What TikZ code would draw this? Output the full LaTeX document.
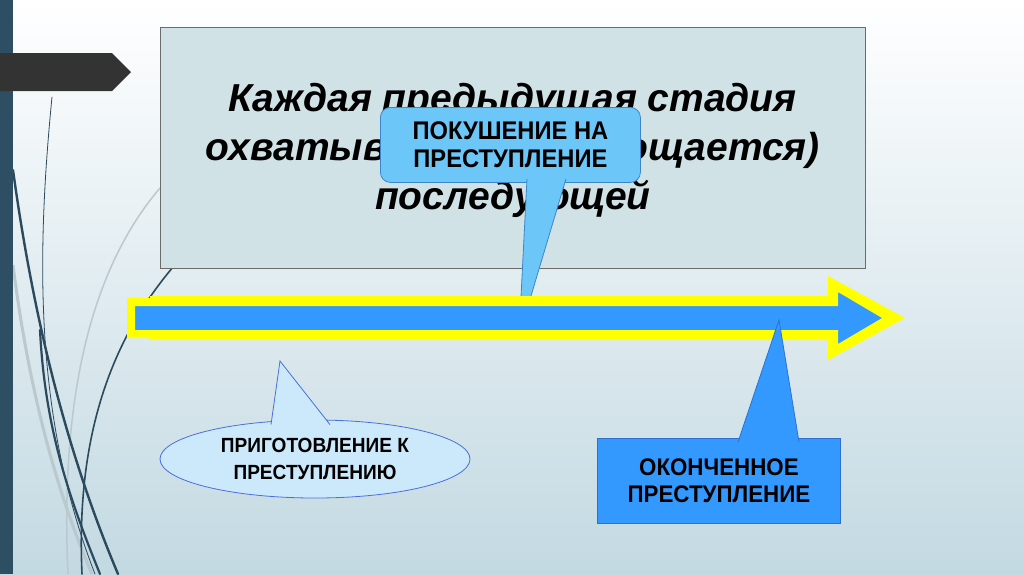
\documentclass[tikz,border=0pt]{standalone}
\usepackage{fontspec}
\setmainfont{Liberation Sans}
\newfontfamily\slimfont[FakeStretch=0.93]{Liberation Sans}
\usepackage{tikz}
\usetikzlibrary{positioning,calc,shapes.geometric}
\definecolor{bgbottom}{HTML}{C3D9E2}
\definecolor{barteal}{HTML}{2E4F63}
\definecolor{tabdark}{HTML}{333333}
\definecolor{wispdark}{HTML}{2B4A5E}
\definecolor{wisplight}{HTML}{B9C9CE}
\definecolor{boxfill}{HTML}{D1E2E7}
\definecolor{boxline}{HTML}{6B6B6B}
\definecolor{skyfill}{HTML}{6CC6F8}
\definecolor{skyline}{HTML}{3B86C8}
\definecolor{arrowblue}{HTML}{3399FF}
\definecolor{signal}{HTML}{FFFF00}
\definecolor{ellfill}{HTML}{CCE9FB}
\definecolor{ellline}{HTML}{4A6FDC}
\definecolor{finalline}{HTML}{2F6FD0}

\begin{document}
\begin{tikzpicture}[x=1pt, y=-1pt,
    attemptstyle/.style={fill=skyfill, draw=skyline, line width=0.8pt},
    prepstyle/.style={fill=ellfill, draw=ellline, line width=0.8pt},
    finalstyle/.style={fill=arrowblue, draw=finalline, line width=0.8pt},
    wisp/.style={draw=wispdark, line cap=round}]
    \useasboundingbox (0,0) rectangle (1024,574);
    % background and theme decoration
    \shade[top color=white, bottom color=bgbottom] (0,0) rectangle (1024,574);
    \draw[wisplight, line width=1.5pt] (160,188) .. controls (90,270) and (60,400) .. (68,574);
    \draw[wisplight, line width=3pt] (13,265) .. controls (30,400) and (60,500) .. (92,574);
    \draw[wisp, line width=2.4pt] (13,170) .. controls (35,330) and (70,460) .. (118,574);
    \draw[wisp, line width=2.2pt] (40,330) .. controls (45,430) and (70,500) .. (100,574);
    \draw[wisp, line width=0.8pt] (52,97) .. controls (36,260) and (35,420) .. (95,574);
    \draw[wisp, line width=1.6pt] (193,245) .. controls (120,320) and (75,420) .. (82,574);
    \fill[barteal] (0,0) rectangle (13,574);
    \fill[tabdark] (0,53) -- (112,53) -- (131,72) -- (112,91) -- (0,91) -- cycle;

    % main statement
    \node[draw=boxline, fill=boxfill, line width=0.8pt, minimum width=705pt, minimum height=241pt,
          anchor=north west] (stagebox) at (160,27) {};
    \node[align=center, font=\bfseries\itshape\fontsize{39}{49}\selectfont]
          (stagetext) at ($(stagebox.center)+(0,3)$)
          {Каждая предыдущая стадия\\охватывается (поглощается)\\последующей};

    % attempt callout
    \node[attemptstyle, rounded corners=10pt, minimum width=260pt, minimum height=75pt,
          anchor=north west, align=center, font=\slimfont\bfseries\fontsize{25.5}{28}\selectfont]
          (attempt) at (380,107) {ПОКУШЕНИЕ НА\\ПРЕСТУПЛЕНИЕ};
    \coordinate (attemptTip) at (519,336);
    \filldraw[attemptstyle] ($(attempt.south west)+(147,-4)$) -- (attemptTip) -- ($(attempt.south west)+(186,-4)$);

    % stage arrow
    \fill[signal] (150,296) -- (828,296) -- (828,276) -- (905,318) -- (828,360) -- (828,340) -- (150,340) -- cycle;
    \filldraw[fill=arrowblue, draw=signal, line width=8pt, line join=miter]
          (131,302) -- (834,302) -- (834,285) -- (890,318) -- (834,351) -- (834,334) -- (131,334) -- cycle;

    % preparation callout
    \node[prepstyle, ellipse, minimum width=310pt, minimum height=78pt, inner sep=0pt,
          align=center, font=\slimfont\bfseries\fontsize{20.5}{27}\selectfont]
          (prep) at (315,459) {ПРИГОТОВЛЕНИЕ К\\ПРЕСТУПЛЕНИЮ};
    \coordinate (prepTip) at (280,361);
    \filldraw[prepstyle] ($(prep.north)+(-44,5)$) -- (prepTip) -- ($(prep.north)+(15,5)$);

    % completed crime callout
    \node[finalstyle, minimum width=243pt, minimum height=85pt, anchor=north west,
          align=center, font=\slimfont\bfseries\fontsize{24}{27}\selectfont]
          (done) at (597,438) {ОКОНЧЕННОЕ\\ПРЕСТУПЛЕНИЕ};
    \coordinate (doneTip) at (779,320);
    \filldraw[finalstyle] ($(done.north west)+(141,4)$) -- (doneTip) -- ($(done.north west)+(202,4)$);
\end{tikzpicture}
\end{document}
